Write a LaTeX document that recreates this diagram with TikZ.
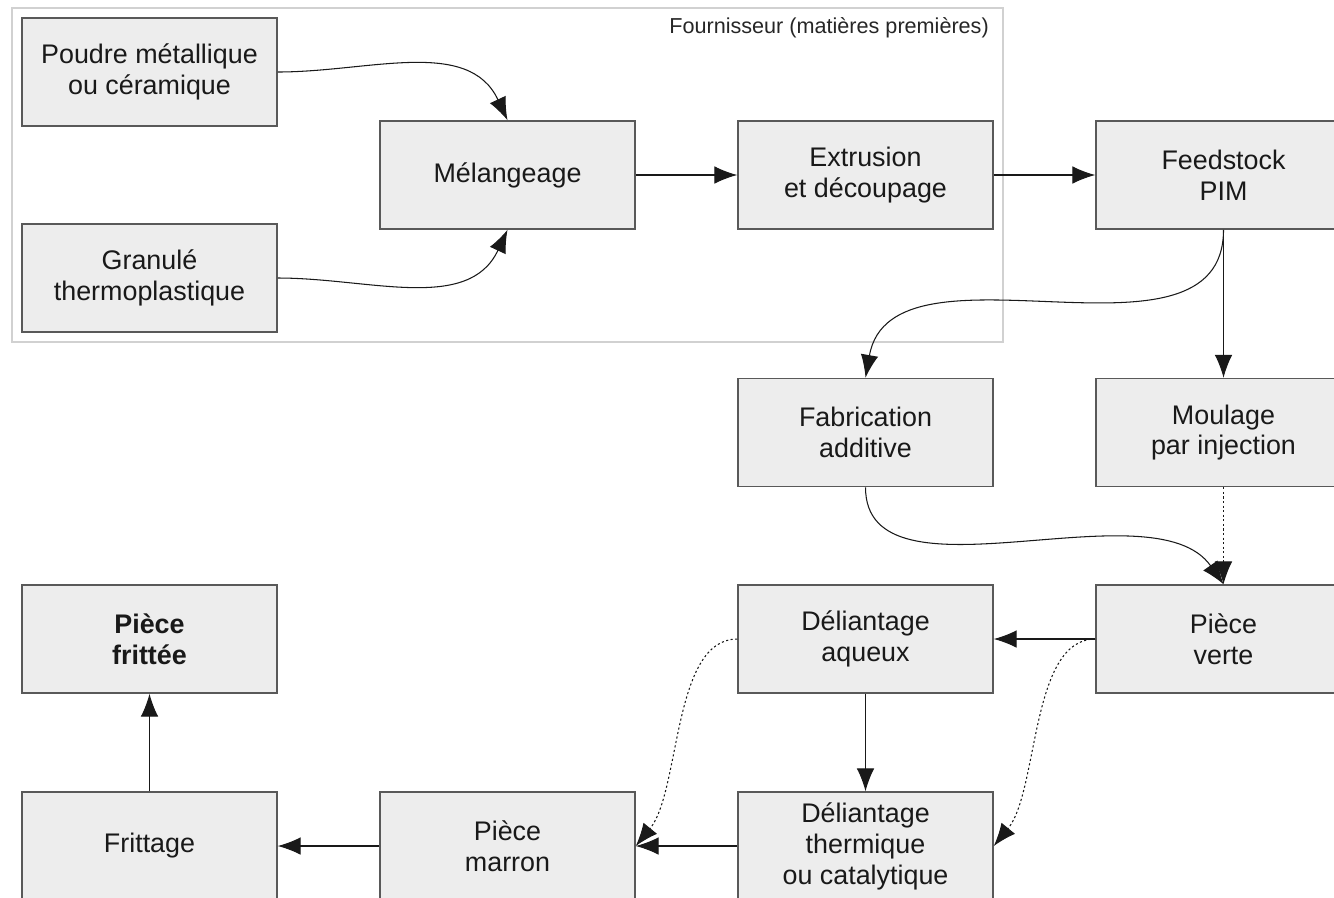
\documentclass[tikz,border=0pt]{standalone}
\usepackage{fontspec}
\setmainfont{Liberation Sans}
\usetikzlibrary{arrows.meta}
\begin{document}
\begin{tikzpicture}[x=0.02cm, y=0.02cm,
	box/.style={draw=black!65, fill=black!7, line width=0.9pt, minimum width=5.1cm, minimum height=2.16cm, inner sep=0pt, align=center, text=black!90, font=\fontsize{15.3}{17.6}\selectfont},
	fleche/.style={-{Latex[length=13pt, width=10pt]}, line width=0.6pt, black!90},
	pointille/.style={fleche, dash pattern=on 1.2pt off 1.4pt}]
		\useasboundingbox (0,0) rectangle (1334,-897);
		\draw[black!18, line width=0.8pt] (12,-8) rectangle (1003,-342);
		\node[anchor=east, text=black!85, font=\fontsize{12.3}{14}\selectfont] (fournisseur) at (995,-28) {Fournisseur (matières premières)};
		\node[box] (poudre) at (149.5,-72) {Poudre métallique\\ou céramique};
		\node[box] (granule) at (149.5,-278) {Granulé\\thermoplastique};
		\node[box] (melange) at (507.5,-175) {Mélangeage};
		\node[box] (extrusion) at (865.5,-175) {Extrusion\\et découpage};
		\node[box] (feedstock) at (1223.5,-175) {Feedstock\\PIM};
		\node[box] (fabrication) at (865.5,-432.5) {Fabrication\\additive};
		\node[box] (moulage) at (1223.5,-432.5) {Moulage\\par injection};
		\node[box] (verte) at (1223.5,-639) {Pièce\\verte};
		\node[box] (aqueux) at (865.5,-639) {Déliantage\\aqueux};
		\node[box] (thermique) at (865.5,-846) {Déliantage\\thermique\\ou catalytique};
		\node[box] (marron) at (507.5,-846) {Pièce\\marron};
		\node[box] (frittage) at (149.5,-846) {Frittage};
		\node[box, font=\fontsize{15.3}{17.6}\selectfont\bfseries] (frittee) at (149.5,-639) {Pièce\\frittée};
		\draw[fleche] (poudre.east) to[out=0, in=115] (melange.north);
		\draw[fleche] (granule.east) to[out=0, in=-115] (melange.south);
		\draw[fleche] (feedstock.south) to[out=-90, in=80] (fabrication.north);
		\draw[fleche] (fabrication.south) to[out=-90, in=125, looseness=0.85] (verte.north);
		\draw[pointille] (moulage) -- (verte);
		\foreach \a/\b in {melange/extrusion, extrusion/feedstock, feedstock/moulage, verte/aqueux, aqueux/thermique, thermique/marron, marron/frittage, frittage/frittee}{
			\draw[fleche] (\a) -- (\b);
		}
		\foreach \a/\b in {verte/thermique, aqueux/marron}{
			\draw[pointille] (\a.west) .. controls +(-65,0) and +(45,55) .. (\b.east);
		}
	\end{tikzpicture}
\end{document}
